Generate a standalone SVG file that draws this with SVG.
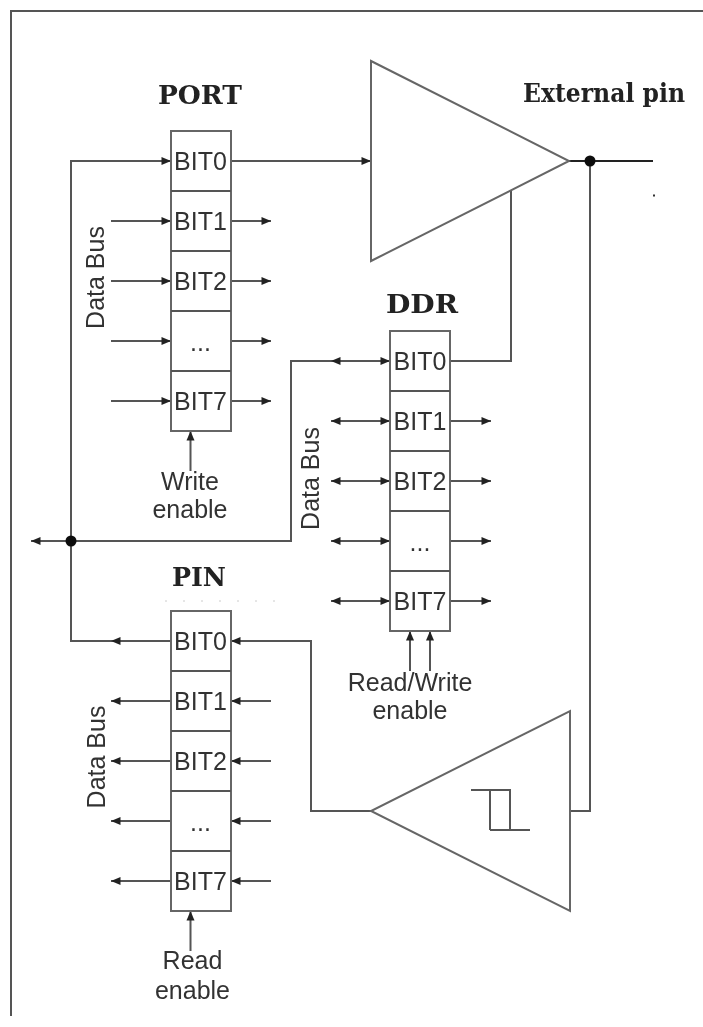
<svg xmlns="http://www.w3.org/2000/svg" width="703" height="1027" viewBox="0 0 703 1027">
<style>
.w{stroke:#555;stroke-width:2;fill:none}
.t{fill:none;stroke:#666;stroke-width:2}
.box{fill:#fff;stroke:#666;stroke-width:2}
.sep{stroke:#555;stroke-width:2.2}
.l{font-family:"Liberation Sans",Arial,sans-serif;font-size:25px;fill:#333;text-anchor:middle}
.h{font-family:"DejaVu Serif","Liberation Serif",serif;font-weight:bold;font-size:26px;fill:#222}
</style>
<defs>
<marker id="a" markerUnits="userSpaceOnUse" markerWidth="11" markerHeight="9" refX="10" refY="4.500" orient="auto"><path d="M0.500 0.500L10 4.500L0.500 8.500z" fill="#222"/></marker>
<filter id="b" x="-5%" y="-5%" width="110%" height="110%"><feGaussianBlur stdDeviation="0.45"/></filter>
</defs>
<rect width="703" height="1027" fill="#fff"/>
<g filter="url(#b)">
<path id="frame" d="M703 11H11V1016" fill="none" stroke="#555" stroke-width="2"/>
<g id="connectors">
<path class="w" d="M71 541V161H171" marker-end="url(#a)"/>
<path class="w" d="M231 161H371" marker-end="url(#a)"/>
<path class="w" d="M111 221H171" marker-end="url(#a)"/><path class="w" d="M231 221H271" marker-end="url(#a)"/>
<path class="w" d="M111 281H171" marker-end="url(#a)"/><path class="w" d="M231 281H271" marker-end="url(#a)"/>
<path class="w" d="M111 341H171" marker-end="url(#a)"/><path class="w" d="M231 341H271" marker-end="url(#a)"/>
<path class="w" d="M111 401H171" marker-end="url(#a)"/><path class="w" d="M231 401H271" marker-end="url(#a)"/>
<path class="w" d="M190.500 471V431" marker-end="url(#a)"/>
<path class="w" d="M71 541H31" marker-end="url(#a)"/>
<path class="w" d="M71 541H291V361H390" marker-end="url(#a)"/>
<path class="w" d="M340 361H331" marker-end="url(#a)"/>
<path class="w" d="M450 361H511V191"/>
<path class="w" d="M331 421H390" marker-end="url(#a)"/><path class="w" d="M340 421H331" marker-end="url(#a)"/><path class="w" d="M450 421H491" marker-end="url(#a)"/>
<path class="w" d="M331 481H390" marker-end="url(#a)"/><path class="w" d="M340 481H331" marker-end="url(#a)"/><path class="w" d="M450 481H491" marker-end="url(#a)"/>
<path class="w" d="M331 541H390" marker-end="url(#a)"/><path class="w" d="M340 541H331" marker-end="url(#a)"/><path class="w" d="M450 541H491" marker-end="url(#a)"/>
<path class="w" d="M331 601H390" marker-end="url(#a)"/><path class="w" d="M340 601H331" marker-end="url(#a)"/><path class="w" d="M450 601H491" marker-end="url(#a)"/>
<path class="w" d="M410 671V631" marker-end="url(#a)"/><path class="w" d="M430 671V631" marker-end="url(#a)"/>
<path class="w" d="M71 541V641H171"/>
<path class="w" d="M121 641H111" marker-end="url(#a)"/>
<path class="w" d="M371 811H311V641H231" marker-end="url(#a)"/>
<path class="w" d="M171 701H111" marker-end="url(#a)"/><path class="w" d="M271 701H231" marker-end="url(#a)"/>
<path class="w" d="M171 761H111" marker-end="url(#a)"/><path class="w" d="M271 761H231" marker-end="url(#a)"/>
<path class="w" d="M171 821H111" marker-end="url(#a)"/><path class="w" d="M271 821H231" marker-end="url(#a)"/>
<path class="w" d="M171 881H111" marker-end="url(#a)"/><path class="w" d="M271 881H231" marker-end="url(#a)"/>
<path class="w" d="M190.500 951V911" marker-end="url(#a)"/>
<path class="w" d="M570 811H590V161"/>
<path d="M569 161H653" stroke="#222" stroke-width="2" fill="none"/>
<circle cx="590" cy="161" r="5.500" fill="#111"/>
<circle cx="71" cy="541" r="5.500" fill="#111"/>
</g>
<g id="output-buffer"><path class="t" d="M371 61V261L569 161Z"/></g>
<g id="input-buffer"><path class="t" d="M570 711V911L371 811Z"/><path class="w" d="M471 790H510V830M490 830V790M490 830H530"/></g>
<g id="port">
<rect class="box" x="171" y="131" width="60" height="300"/>
<path class="sep" d="M171 191H231M171 251H231M171 311H231M171 371H231"/>
<text class="l" x="200.500" y="170">BIT0</text><text class="l" x="200.500" y="230">BIT1</text><text class="l" x="200.500" y="290">BIT2</text><text class="l" x="200.500" y="351">...</text><text class="l" x="200.500" y="410">BIT7</text>
</g>
<g id="ddr">
<rect class="box" x="390" y="331" width="60" height="300"/>
<path class="sep" d="M390 391H450M390 451H450M390 511H450M390 571H450"/>
<text class="l" x="420" y="370">BIT0</text><text class="l" x="420" y="430">BIT1</text><text class="l" x="420" y="490">BIT2</text><text class="l" x="420" y="551">...</text><text class="l" x="420" y="610">BIT7</text>
</g>
<g id="pin">
<rect class="box" x="171" y="611" width="60" height="300"/>
<path class="sep" d="M171 671H231M171 731H231M171 791H231M171 851H231"/>
<text class="l" x="200.500" y="650">BIT0</text><text class="l" x="200.500" y="710">BIT1</text><text class="l" x="200.500" y="770">BIT2</text><text class="l" x="200.500" y="831">...</text><text class="l" x="200.500" y="890">BIT7</text>
</g>
<g id="labels">
<text class="h" x="158" y="104" textLength="84" lengthAdjust="spacingAndGlyphs">PORT</text>
<text class="h" x="386" y="312.500" textLength="72" lengthAdjust="spacingAndGlyphs">DDR</text>
<text class="h" x="172" y="586" textLength="54" lengthAdjust="spacingAndGlyphs">PIN</text>
<text class="h" x="523" y="101.500" textLength="162" lengthAdjust="spacingAndGlyphs">External pin</text>
<text class="l" transform="translate(104 277.500) rotate(-90)">Data Bus</text>
<text class="l" transform="translate(319 478.500) rotate(-90)">Data Bus</text>
<text class="l" transform="translate(105 757) rotate(-90)">Data Bus</text>
<text class="l" x="190" y="490">Write</text><text class="l" x="190" y="518">enable</text>
<text class="l" x="410" y="691">Read/Write</text><text class="l" x="410" y="719">enable</text>
<text class="l" x="192.500" y="969">Read</text><text class="l" x="192.500" y="999">enable</text>
</g>
<rect id="speck" x="653" y="194.500" width="2" height="2" fill="#333"/>
<path d="M165 601H290" stroke="#ccc" stroke-width="1" stroke-dasharray="2 16" fill="none"/>
</g>
</svg>
